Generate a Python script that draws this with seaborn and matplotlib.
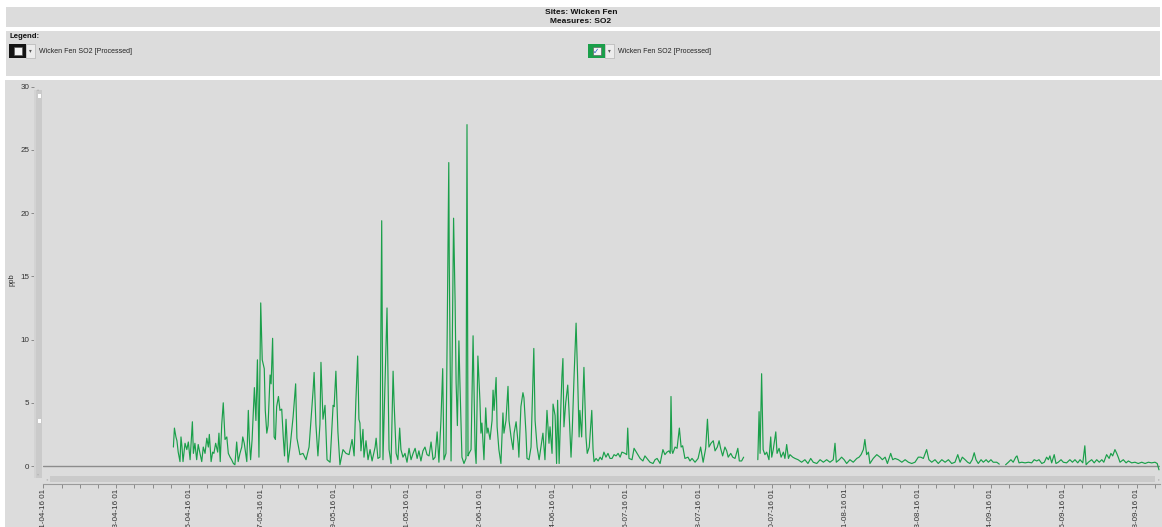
import matplotlib
matplotlib.use("Agg")
import numpy as np
import pandas as pd
import matplotlib.pyplot as plt
import matplotlib.dates as mdates
from matplotlib.patches import Rectangle
from matplotlib.ticker import FixedLocator
import seaborn as sns

# ---------------------------------------------------------------- data
SITE = "Wicken Fen"
MEASURE = "SO2"
SERIES_LABEL = "Wicken Fen SO2 [Processed]"
UNITS = "ppb"
T0 = "2016-04-01 01:00"          # origin of the time axis
T_SPAN_HOURS = 4412              # visible span of the time axis

# hours after T0 and processed SO2 concentration (ppb)
spring_hours = [
    514, 518, 524, 528, 533, 540, 544, 548, 552, 560,
    567, 573, 580, 589, 593, 599, 606, 612, 619, 626,
    632, 639, 646, 652, 656, 663, 669, 674, 681, 689,
    694, 699, 705, 711, 718, 725, 731, 738, 744, 751,
    757, 764, 770, 777, 784, 788, 794, 804, 810, 814,
    819, 825, 834, 840, 846, 852, 859, 865, 873, 877,
    883, 888, 896, 900, 906, 912, 917, 922, 929, 935,
    942, 948, 953, 959, 967, 975, 987, 997, 1002, 1014,
    1026, 1038, 1050, 1066, 1070, 1077, 1085, 1093, 1097, 1105,
    1113, 1121, 1133, 1145, 1149, 1156, 1164, 1172, 1184, 1196,
    1208, 1220, 1228, 1235, 1242, 1247, 1251, 1255, 1263, 1267,
    1275, 1283, 1291, 1299, 1311, 1315, 1322, 1330, 1337, 1342,
    1358, 1366, 1374, 1382, 1386, 1394, 1401, 1408, 1413, 1421,
    1429, 1437,
]
spring_ppb = [
    1.5, 3.0, 2.3, 2.0, 1.1, 0.35, 2.3, 1.5, 0.35, 1.8,
    1.3, 1.9, 0.5, 3.5, 1.0, 1.8, 0.5, 1.7, 1.0, 0.35,
    1.5, 1.0, 2.2, 1.5, 2.5, 0.35, 1.1, 1.0, 1.8, 1.1,
    2.6, 0.35, 3.3, 5.0, 2.1, 2.3, 1.0, 0.7, 0.5, 0.2,
    0.1, 1.9, 0.35, 1.0, 1.5, 2.3, 1.8, 0.35, 4.4, 2.1,
    0.5, 2.1, 6.2, 3.6, 8.4, 0.7, 12.9, 8.4, 7.7, 4.4,
    2.6, 3.2, 7.2, 6.5, 10.1, 2.3, 2.1, 4.7, 5.5, 4.4,
    4.5, 2.3, 0.8, 3.7, 0.3, 1.5, 3.9, 6.5, 2.2, 0.9,
    1.0, 0.5, 1.5, 6.0, 7.4, 3.3, 0.8, 3.3, 8.2, 3.7,
    4.8, 0.5, 0.3, 4.8, 4.7, 7.5, 2.7, 0.1, 1.3, 1.0,
    0.9, 2.1, 0.8, 5.2, 8.7, 3.7, 3.4, 1.2, 2.9, 0.7,
    2.0, 0.5, 1.3, 0.4, 1.5, 2.2, 0.6, 0.7, 19.4, 0.5,
    12.5, 1.3, 0.2, 7.5, 5.0, 1.0, 0.5, 3.0, 1.3, 0.7,
    1.0, 0.3,
]

summer_hours = [
    1445, 1453, 1461, 1469, 1477, 1484, 1492, 1500, 1508, 1516,
    1524, 1532, 1540, 1548, 1556, 1563, 1571, 1578, 1583, 1591,
    1596, 1602, 1604, 1611, 1621, 1627, 1631, 1636, 1642, 1646,
    1654, 1662, 1670, 1674, 1678, 1682, 1690, 1698, 1706, 1710,
    1717, 1725, 1729, 1733, 1741, 1748, 1753, 1757, 1765, 1773,
    1777, 1781, 1789, 1793, 1800, 1808, 1816, 1820, 1828, 1836,
    1840, 1848, 1856, 1860, 1868, 1876, 1879, 1887, 1895, 1899,
    1907, 1911, 1919, 1927, 1938, 1943, 1951, 1959, 1966, 1974,
    1982, 1990, 1998, 2002, 2010, 2014, 2022, 2028, 2032, 2038,
    2045, 2049, 2053, 2057, 2064, 2072, 2077, 2085, 2090, 2097,
    2105, 2111, 2117, 2120, 2127, 2136, 2144, 2149, 2157, 2167,
    2172, 2176, 2184, 2192, 2200, 2207, 2215, 2223, 2231, 2239,
    2247, 2255, 2263, 2271, 2279, 2286, 2298, 2305, 2309, 2314,
    2326, 2334, 2346, 2358, 2369, 2377, 2385, 2397, 2409, 2417,
    2425, 2437, 2448, 2456, 2464, 2472, 2477, 2480, 2484, 2487,
    2496, 2504, 2513, 2520, 2526, 2535, 2547, 2555, 2563, 2575,
    2587, 2597, 2607, 2617, 2624, 2630, 2638, 2647, 2654, 2663,
    2670, 2676, 2684, 2693, 2700, 2706, 2716, 2724, 2733, 2744,
    2750, 2759, 2767,
]
summer_ppb = [
    1.4, 0.5, 1.0, 1.4, 0.6, 1.2, 0.4, 1.2, 1.5, 0.9,
    0.8, 1.9, 0.5, 0.7, 2.7, 0.3, 3.6, 7.7, 0.5, 1.0,
    11.0, 24.0, 16.0, 0.4, 19.6, 13.0, 6.6, 3.2, 9.9, 6.6,
    0.7, 0.2, 0.6, 27.0, 0.8, 1.0, 1.3, 10.3, 1.3, 0.2,
    8.7, 5.2, 2.6, 3.4, 0.5, 4.6, 2.6, 3.0, 2.1, 3.6,
    6.0, 4.4, 7.0, 3.1, 1.3, 0.2, 4.2, 2.6, 3.6, 6.3,
    3.6, 2.3, 1.3, 2.6, 3.5, 1.8, 0.7, 4.7, 5.8, 5.4,
    2.6, 0.6, 0.5, 1.5, 9.3, 3.6, 1.5, 0.5, 1.5, 2.6,
    0.5, 4.4, 1.8, 3.1, 1.0, 4.9, 4.0, 0.2, 5.2, 0.2,
    4.8, 7.1, 8.5, 3.1, 5.0, 6.4, 4.4, 0.7, 2.9, 7.1,
    11.3, 7.1, 2.3, 4.4, 2.3, 7.8, 2.3, 1.0, 1.5, 4.4,
    1.3, 0.35, 0.6, 0.4, 0.7, 0.5, 1.1, 0.7, 1.0, 0.6,
    0.6, 0.9, 0.8, 1.0, 0.7, 1.1, 1.0, 0.9, 3.0, 0.6,
    0.5, 1.4, 1.0, 0.6, 0.4, 0.8, 0.6, 0.3, 0.2, 0.5,
    0.6, 0.2, 1.3, 0.9, 1.1, 1.2, 1.0, 5.5, 1.2, 1.0,
    1.5, 1.4, 3.0, 1.5, 1.6, 0.6, 0.7, 0.4, 0.6, 0.3,
    0.6, 1.5, 0.3, 1.4, 3.7, 1.5, 1.8, 2.0, 1.2, 1.5,
    2.0, 1.4, 0.8, 1.5, 1.2, 0.7, 1.0, 0.7, 0.6, 1.4,
    0.4, 0.4, 0.7,
]

august_hours = [
    2823, 2828, 2832, 2838, 2844, 2851, 2858, 2867, 2874, 2878,
    2884, 2894, 2899, 2907, 2915, 2924, 2930, 2937, 2944, 2950,
    2961, 2970, 2982, 2996, 3009, 3021, 3032, 3042, 3056, 3069,
    3082, 3095, 3108, 3121, 3128, 3133, 3145, 3154, 3164, 3174,
    3187, 3200, 3214, 3223, 3231, 3240, 3246, 3253, 3260, 3266,
    3279, 3293, 3306, 3315, 3326, 3335, 3348, 3356, 3365, 3378,
    3392, 3405, 3418, 3431, 3444, 3457, 3467, 3477, 3490, 3499,
    3510, 3523, 3536, 3550, 3563, 3576, 3589, 3602, 3613, 3622,
    3631, 3642, 3652, 3661, 3670, 3678, 3685, 3694, 3705, 3714,
    3725, 3734, 3744, 3753, 3767, 3777,
]
august_ppb = [
    0.5, 4.3, 1.0, 7.3, 1.3, 0.9, 1.1, 0.5, 2.3, 0.7,
    1.3, 2.7, 1.0, 1.4, 0.7, 1.1, 0.6, 1.7, 0.6, 0.9,
    0.7, 0.6, 0.5, 0.3, 0.5, 0.2, 0.6, 0.3, 0.2, 0.5,
    0.3, 0.5, 0.3, 0.5, 1.8, 0.3, 0.5, 0.7, 0.5, 0.2,
    0.5, 0.3, 0.6, 0.7, 0.9, 1.3, 2.1, 0.9, 1.1, 0.2,
    0.6, 0.9, 0.7, 0.5, 0.7, 0.2, 1.0, 0.5, 0.6, 0.5,
    0.3, 0.5, 0.3, 0.2, 0.3, 0.7, 0.7, 0.6, 1.3, 0.5,
    0.3, 0.5, 0.2, 0.5, 0.3, 0.5, 0.2, 0.3, 0.9, 0.3,
    0.7, 0.5, 0.3, 0.2, 0.5, 1.05, 0.5, 0.2, 0.5, 0.3,
    0.5, 0.3, 0.5, 0.3, 0.3, 0.15,
]

september_hours = [
    3802, 3813, 3823, 3832, 3842, 3847, 3855, 3866, 3879, 3892,
    3905, 3915, 3925, 3934, 3945, 3955, 3964, 3971, 3977, 3984,
    3994, 4001, 4010, 4021, 4030, 4043, 4056, 4066, 4076, 4087,
    4096, 4107, 4115, 4120, 4129, 4142, 4152, 4162, 4172, 4182,
    4190, 4201, 4211, 4218, 4225, 4234, 4241, 4247, 4254, 4267,
    4278, 4287, 4300, 4313, 4326, 4340, 4353, 4366, 4379, 4392,
    4401, 4408,
]
september_ppb = [
    0.1, 0.3, 0.5, 0.3, 0.7, 0.8, 0.25, 0.3, 0.25, 0.3,
    0.25, 0.5, 0.4, 0.5, 0.2, 0.3, 0.7, 0.5, 0.8, 0.25,
    0.9, 0.2, 0.3, 0.5, 0.3, 0.25, 0.5, 0.3, 0.5, 0.25,
    0.5, 0.25, 1.6, 0.1, 0.3, 0.5, 0.25, 0.5, 0.3, 0.5,
    0.3, 0.9, 0.6, 1.0, 0.8, 1.3, 1.0, 0.7, 0.3, 0.5,
    0.25, 0.4, 0.25, 0.3, 0.2, 0.3, 0.2, 0.3, 0.25, 0.3,
    0.2, -0.3,
]

y_ticks = [0, 5, 10, 15, 20, 25, 30]
x_tick_dates = [
    "2016-04-01 01:00", "2016-04-13 01:00", "2016-04-25 01:00",
    "2016-05-07 01:00", "2016-05-19 01:00", "2016-05-31 01:00",
    "2016-06-12 01:00", "2016-06-24 01:00", "2016-07-06 01:00",
    "2016-07-18 01:00", "2016-07-30 01:00", "2016-08-11 01:00",
    "2016-08-23 01:00", "2016-09-04 01:00", "2016-09-16 01:00",
    "2016-09-28 01:00",
]

# ---------------------------------------------------------------- frame
hours = np.concatenate([spring_hours, summer_hours, august_hours, september_hours])
ppb = np.concatenate([spring_ppb, summer_ppb, august_ppb, september_ppb])
t0 = pd.Timestamp(T0)
df = pd.DataFrame({"time": t0 + pd.to_timedelta(hours, unit="h"), "ppb": ppb})
# break the trace wherever the record has a gap longer than a day
df["run"] = (np.diff(hours, prepend=hours[0]) > 20).cumsum()

# ---------------------------------------------------------------- style
sns.set_style("white")
plt.rcParams["font.family"] = ["Liberation Sans", "DejaVu Sans"]

W, H = 1162, 527
PANEL = "#dcdcdc"
GREEN = "#1a9f4a"
TEXT = "#222222"
fig = plt.figure(figsize=(W / 100, H / 100), dpi=100)
fig.patch.set_facecolor("white")


def fx(px):
    return px / W


def fy(py):
    return 1 - py / H


def rect(x0, y0, x1, y1, color, **kw):
    fig.add_artist(Rectangle((fx(x0), fy(y1)), fx(x1 - x0), (y1 - y0) / H,
                             transform=fig.transFigure, facecolor=color,
                             edgecolor=kw.pop("edgecolor", "none"),
                             linewidth=kw.pop("linewidth", 0.6), **kw))


def label(x, y, s, **kw):
    fig.text(fx(x), fy(y), s, **kw)


# header, legend and chart panels
rect(6, 7, 1160, 27, PANEL, zorder=0)
rect(6, 31, 1160, 76, PANEL, zorder=0)
rect(5, 80, 1162, 527, PANEL, zorder=0)

label(581, 13, f"Sites: {SITE}", ha="center", va="center", fontsize=6,
      fontweight="bold", color="#111")
label(581, 21.5, f"Measures: {MEASURE}", ha="center", va="center", fontsize=6,
      fontweight="bold", color="#111")

# legend row
label(9, 36.5, "Legend:", ha="left", va="center", fontsize=5.6,
      fontweight="bold", color="#111")
for x0, frame_color, checked in [(9, "#141414", False), (588, GREEN, True)]:
    rect(x0, 44, x0 + 17, 58, frame_color, zorder=2)
    rect(x0 + 4.5, 47, x0 + 12.5, 55, "#f4f4f4", zorder=3,
         edgecolor="#555555", linewidth=0.4)
    if checked:
        label(x0 + 8.5, 51, "\u2713", ha="center", va="center", fontsize=5.5,
              color="#2a55c8", fontweight="bold", family=["DejaVu Sans"], zorder=4)
    rect(x0 + 17, 44, x0 + 26, 58, "#ececec", zorder=2,
         edgecolor="#aaaaaa", linewidth=0.4)
    label(x0 + 21.5, 51, "\u25be", ha="center", va="center", fontsize=4,
          color="#555", family=["DejaVu Sans"], zorder=4)
    label(x0 + 30, 51.5, SERIES_LABEL, ha="left", va="center", fontsize=5,
          color=TEXT)

# ---------------------------------------------------------------- chart
LEFT, RIGHT, TOP, BOTTOM = 43.3, 1160.0, 86.7, 475.0
ax = fig.add_axes([fx(LEFT), fy(BOTTOM), fx(RIGHT - LEFT), (BOTTOM - TOP) / H])
ax.set_facecolor("none")
ax.axhline(0, color="#8c8c8c", lw=1.0, zorder=1)
sns.lineplot(data=df, x="time", y="ppb", units="run", estimator=None,
             color=GREEN, lw=0.85, ax=ax, zorder=2, legend=False)
ax.set_xlim(t0, t0 + pd.Timedelta(hours=T_SPAN_HOURS))
ax.set_ylim(-0.71, 30)
ax.axis("off")

# scrollbars
rect(34.3, 90, 41.7, 478, "#cacaca", zorder=1)
rect(34.3, 90, 36.2, 478, "#d3d3d3", zorder=1)
rect(37.5, 94, 40.5, 97.5, "white", zorder=2)
rect(37.5, 419, 40.5, 422.5, "white", zorder=2)
label(38, 89, "\u25b4", ha="center", va="center", fontsize=3, color="#b5b5b5",
      family=["DejaVu Sans"])
label(38, 474, "\u25be", ha="center", va="center", fontsize=3, color="#b5b5b5",
      family=["DejaVu Sans"])
rect(50, 476, 1155, 482, "#cacaca", zorder=1)
label(47.5, 479, "\u25c2", ha="center", va="center", fontsize=3, color="#b5b5b5",
      family=["DejaVu Sans"])
label(1159, 479, "\u25b8", ha="center", va="center", fontsize=3, color="#b5b5b5",
      family=["DejaVu Sans"])

# value axis
yax = fig.add_axes([fx(34.3), fy(BOTTOM), 1e-4, (BOTTOM - TOP) / H], sharey=ax)
yax.set_facecolor("none")
for s in yax.spines.values():
    s.set_visible(False)
yax.xaxis.set_visible(False)
yax.yaxis.set_major_locator(FixedLocator(y_ticks))
yax.tick_params(axis="y", left=True, length=1.9, width=0.7, color="#8a8a8a",
                labelsize=5.8, labelcolor="#333333", pad=1.6)
label(12.5, 280, UNITS, ha="center", va="center", rotation=90, fontsize=5.5,
      color="#333333")

# time axis
xax = fig.add_axes([fx(LEFT), fy(483.5), fx(RIGHT - LEFT), 1e-4], sharex=ax)
xax.set_facecolor("none")
for side in ["top", "left", "right"]:
    xax.spines[side].set_visible(False)
xax.spines["bottom"].set_color("#9a9a9a")
xax.spines["bottom"].set_linewidth(0.8)
xax.yaxis.set_visible(False)
major = [mdates.date2num(pd.Timestamp(d)) for d in x_tick_dates]
minor = list(np.arange(major[0], major[-1] + 6, 3.0))
xax.xaxis.set_major_locator(FixedLocator(major))
xax.xaxis.set_minor_locator(FixedLocator(minor))
xax.xaxis.set_major_formatter(mdates.DateFormatter("%d-%m-%y %H"))
xax.tick_params(axis="x", which="both", bottom=True, direction="out",
                length=2.9, width=0.7, color="#8a8a8a")
xax.tick_params(axis="x", which="major", labelsize=5.8, labelcolor="#333333",
                labelrotation=90, pad=0.8)
ax.set_xlim(t0, t0 + pd.Timedelta(hours=T_SPAN_HOURS))

fig.savefig("out.png", dpi=100, facecolor="white")
